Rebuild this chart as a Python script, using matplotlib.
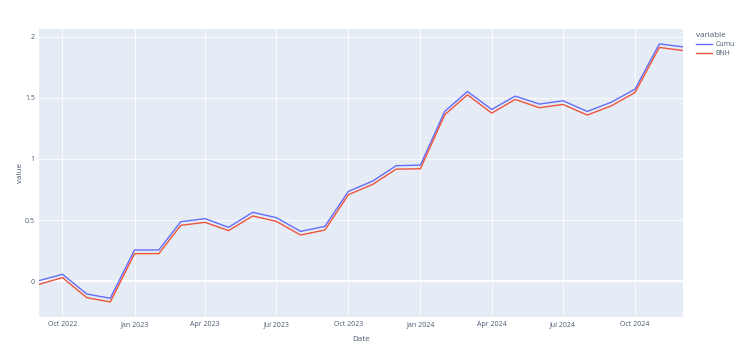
import pandas as pd
import matplotlib
matplotlib.use("Agg")
from matplotlib import pyplot as plt
import matplotlib.dates as mdates

# monthly points
dates = ['2022-09-01', '2022-10-01', '2022-11-01', '2022-12-01',
         '2023-01-01', '2023-02-01', '2023-03-01', '2023-04-01',
         '2023-05-01', '2023-06-01', '2023-07-01', '2023-08-01',
         '2023-09-01', '2023-10-01', '2023-11-01', '2023-12-01',
         '2024-01-01', '2024-02-01', '2024-03-01', '2024-04-01',
         '2024-05-01', '2024-06-01', '2024-07-01', '2024-08-01',
         '2024-09-01', '2024-10-01', '2024-11-01', '2024-12-01']
cumu = [0.005, 0.057, -0.104, -0.139, 0.256, 0.256, 0.487, 0.512,
        0.441, 0.564, 0.520, 0.408, 0.449, 0.735, 0.819, 0.945,
        0.950, 1.389, 1.552, 1.405, 1.514, 1.449, 1.476, 1.389,
        1.465, 1.571, 1.941, 1.917]
bnh = [-0.025, 0.030, -0.134, -0.169, 0.226, 0.226, 0.457, 0.482,
       0.414, 0.534, 0.490, 0.378, 0.419, 0.708, 0.792, 0.917,
       0.920, 1.361, 1.525, 1.375, 1.487, 1.419, 1.446, 1.359,
       1.435, 1.544, 1.912, 1.887]
x_ticks = ['2022-10-01', '2023-01-01', '2023-04-01', '2023-07-01',
           '2023-10-01', '2024-01-01', '2024-04-01', '2024-07-01',
           '2024-10-01']
y_ticks = [0, 0.5, 1, 1.5, 2]
y_tick_labels = ['0', '0.5', '1', '1.5', '2']

plt.rcParams['font.family'] = ['Open Sans', 'DejaVu Sans']
txt = '#4a5a70'

df = pd.DataFrame({'Date': pd.to_datetime(dates), 'Cumu': cumu, 'BNH': bnh})

fig = plt.figure(figsize=(7.4, 3.56), dpi=100)
ax = fig.add_axes([0.0527, 0.1096, 0.870, 0.809])
ax.set_facecolor('#E5ECF6')

ax.plot(df['Date'], df['Cumu'], color='#636efa', linewidth=1.0, label='Cumu', zorder=3)
ax.plot(df['Date'], df['BNH'], color='#EF553B', linewidth=1.0, label='BNH', zorder=3)

ax.set_xlim(df['Date'].iloc[0], df['Date'].iloc[-1])
ax.set_ylim(-0.292, 2.063)

ax.set_xticks(pd.to_datetime(x_ticks))
ax.xaxis.set_major_formatter(mdates.DateFormatter('%b %Y'))
ax.set_yticks(y_ticks)
ax.set_yticklabels(y_tick_labels)

ax.grid(True, color='white', linewidth=0.6, zorder=0)
ax.axhline(0, color='white', linewidth=1.4, zorder=1)
ax.set_axisbelow(True)
for s in ax.spines.values():
    s.set_visible(False)
ax.tick_params(axis='both', length=0, labelsize=5, labelcolor=txt, pad=3)

ax.set_xlabel('Date', fontsize=5.8, color=txt, labelpad=6)
ax.set_ylabel('value', fontsize=5.8, color=txt, labelpad=0.5)

leg = ax.legend(title='variable', loc='upper left', bbox_to_anchor=(1.02, 0.99),
                frameon=False, fontsize=5, title_fontsize=5.8,
                handlelength=2.4, handletextpad=0.5, labelspacing=0.3,
                borderaxespad=0.0, borderpad=0.0)
leg._legend_box.align = 'left'
for t in leg.get_texts():
    t.set_color(txt)
leg.get_title().set_color(txt)

fig.savefig('out.png', dpi=100)
